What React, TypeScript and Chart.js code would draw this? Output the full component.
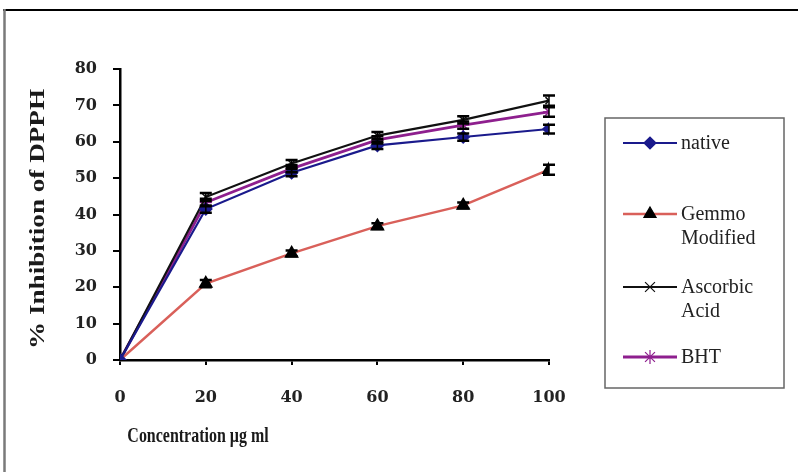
import React, { useEffect, useRef } from "react";
import { Chart, registerables } from "chart.js";
import { drawPoint } from "chart.js/helpers";

Chart.register(...registerables);

// ---- data ----
const concentrations = [0, 20, 40, 60, 80, 100];
const nativeValues = [0, 41.5, 51.5, 59.0, 61.3, 63.5];
const gemmoValues = [0, 21.0, 29.3, 36.8, 42.5, 52.3];
const ascorbicValues = [0, 44.8, 54.0, 61.7, 66.0, 71.3];
const bhtValues = [0, 43.3, 52.6, 60.5, 64.6, 68.2];

const nativeErrors = [0, 1.0, 1.0, 1.0, 1.0, 1.2];
const gemmoErrors = [0, 1.0, 0.8, 0.8, 0.8, 1.4];
const ascorbicErrors = [0, 1.1, 1.0, 1.0, 1.0, 1.4];
const bhtErrors = [0, 1.0, 1.0, 1.0, 1.0, 1.3];

const seriesNames = ["native", "Gemmo Modified", "Ascorbic Acid", "BHT"];
const legendLines = [["native"], ["Gemmo", "Modified"], ["Ascorbic", "Acid"], ["BHT"]];

const xTitle = "Concentration µg ml";
const yTitle = "% Inhibition of DPPH";

const Y_MIN = 0;
const Y_MAX = 80;
const Y_STEP = 10;
const X_MIN = 0;
const X_MAX = 100;
const X_STEP = 20;

// ---- styles ----
const lineColors = ["#1a1a8c", "#d9605a", "#111111", "#8e1f8e"];
const markerFill = ["#1a1a8c", "#000000", "#111111", "#8e1f8e"];
const markerStyles = ["rectRot", "triangle", "crossRot", "star"];
const markerRadius = [6, 7, 5, 6];
const legendMarkerRadius = [6, 7, 7, 7];
const lineWidths = [2.2, 2.5, 2.2, 2.8];

const errorSets = [nativeErrors, gemmoErrors, ascorbicErrors, bhtErrors];
const valueSets = [nativeValues, gemmoValues, ascorbicValues, bhtValues];

const tickFont = { family: "'DejaVu Serif', serif", size: 16, weight: "bold" as const };

const errorBarPlugin = {
  id: "errorBars",
  afterDatasetsDraw(chart: any) {
    const ctx = chart.ctx;
    const xs = chart.scales.x;
    const ys = chart.scales.y;
    ctx.save();
    ctx.strokeStyle = "#000";
    valueSets.forEach((vals, si) => {
      vals.forEach((v, i) => {
        const e = errorSets[si][i];
        if (!e) return;
        const px = xs.getPixelForValue(concentrations[i]);
        const top = ys.getPixelForValue(v + e);
        const bot = ys.getPixelForValue(v - e);
        ctx.lineWidth = 1.5;
        ctx.beginPath();
        ctx.moveTo(px, top);
        ctx.lineTo(px, bot);
        ctx.stroke();
        ctx.lineWidth = 2.5;
        ctx.beginPath();
        ctx.moveTo(px - 6, top);
        ctx.lineTo(px + 6, top);
        ctx.moveTo(px - 6, bot);
        ctx.lineTo(px + 6, bot);
        ctx.stroke();
      });
    });
    ctx.restore();
  },
};

const decorPlugin = {
  id: "decor",
  beforeDraw(chart: any) {
    const ctx = chart.ctx;
    ctx.save();
    ctx.fillStyle = "#ffffff";
    ctx.fillRect(0, 0, chart.width, chart.height);
    ctx.restore();
  },
  afterDraw(chart: any) {
    const ctx = chart.ctx;
    ctx.save();
    // outer frame (partial, as in the reference)
    ctx.strokeStyle = "#000";
    ctx.lineWidth = 2;
    ctx.beginPath();
    ctx.moveTo(3, 10);
    ctx.lineTo(chart.width, 10);
    ctx.stroke();
    ctx.strokeStyle = "#7a7a7a";
    ctx.lineWidth = 2.5;
    ctx.beginPath();
    ctx.moveTo(4.5, 9);
    ctx.lineTo(4.5, chart.height);
    ctx.stroke();

    // x title (condensed bold serif)
    ctx.fillStyle = "#1a1a1a";
    ctx.font = "bold 21px 'Liberation Serif', serif";
    ctx.textAlign = "center";
    ctx.textBaseline = "middle";
    ctx.save();
    ctx.translate(198, 437);
    ctx.scale(0.76, 1);
    ctx.fillText(xTitle, 0, 0);
    ctx.restore();

    // y title
    ctx.save();
    ctx.translate(38, 219);
    ctx.rotate(-Math.PI / 2);
    ctx.font = "bold 22px 'Liberation Serif', serif";
    const w = ctx.measureText(yTitle).width;
    ctx.scale(260 / w, 1);
    ctx.fillText(yTitle, 0, 0);
    ctx.restore();

    // legend box
    ctx.strokeStyle = "#666";
    ctx.lineWidth = 1.5;
    ctx.strokeRect(605, 118, 179, 270);
    const rows = [143, 214, 287, 357];
    ctx.font = "20px 'Liberation Serif', serif";
    ctx.textAlign = "left";
    ctx.textBaseline = "middle";
    chart.data.datasets.forEach((ds: any, i: number) => {
      const y = rows[i];
      ctx.strokeStyle = ds.borderColor;
      ctx.lineWidth = ds.borderWidth;
      ctx.beginPath();
      ctx.moveTo(623, y);
      ctx.lineTo(677, y);
      ctx.stroke();
      ctx.fillStyle = ds.pointBackgroundColor;
      ctx.strokeStyle = ds.pointBorderColor;
      ctx.lineWidth = 1.2;
      drawPoint(ctx, { pointStyle: ds.pointStyle, radius: legendMarkerRadius[i], rotation: 0, borderWidth: 1.2 }, 650, y);
      ctx.fillStyle = "#222";
      legendLines[i].forEach((t, k) => {
        ctx.fillText(t, 681, y + 1 + k * 24);
      });
    });
    ctx.restore();
  },
};

export default function App() {
  const canvasRef = useRef<HTMLCanvasElement | null>(null);

  useEffect(() => {
    const canvas = canvasRef.current;
    if (!canvas) return;
    const datasets = valueSets.map((vals, i) => ({
      label: seriesNames[i],
      data: vals.map((v, k) => ({ x: concentrations[k], y: v })),
      borderColor: lineColors[i],
      backgroundColor: lineColors[i],
      borderWidth: lineWidths[i],
      pointStyle: markerStyles[i],
      pointRadius: markerRadius[i],
      pointBackgroundColor: markerFill[i],
      pointBorderColor: markerFill[i],
      pointBorderWidth: 1.5,
      tension: 0,
      fill: false,
    }));
    const chart = new Chart(canvas, {
      type: "line",
      data: { datasets },
      options: {
        animation: false,
        responsive: false,
        devicePixelRatio: 1,
        layout: { padding: { left: 0, top: 69, right: 249, bottom: 0 } },
        plugins: { legend: { display: false }, tooltip: { enabled: false }, title: { display: false } },
        scales: {
          x: {
            type: "linear",
            min: X_MIN,
            max: X_MAX,
            afterFit: (s: any) => {
              s.height = 112;
            },
            ticks: { stepSize: X_STEP, font: tickFont, color: "#222", padding: 23, maxRotation: 0 },
            grid: { drawOnChartArea: false, drawTicks: true, tickLength: 5, color: "#000", lineWidth: 2 },
            border: { display: true, color: "#000", width: 2.5 },
          },
          y: {
            type: "linear",
            min: Y_MIN,
            max: Y_MAX,
            afterFit: (s: any) => {
              s.width = 120;
            },
            ticks: { stepSize: Y_STEP, font: tickFont, color: "#222", padding: 16 },
            grid: { drawOnChartArea: false, drawTicks: true, tickLength: 7, color: "#000", lineWidth: 2 },
            border: { display: true, color: "#000", width: 2.5 },
          },
        },
      },
      plugins: [decorPlugin, errorBarPlugin],
    });
    return () => chart.destroy();
  }, []);

  return (
    <div style={{ position: "absolute", left: 0, top: 0, width: 798, height: 472, background: "#fff" }}>
      <canvas ref={canvasRef} width={798} height={472} style={{ width: 798, height: 472, display: "block" }} />
    </div>
  );
}
